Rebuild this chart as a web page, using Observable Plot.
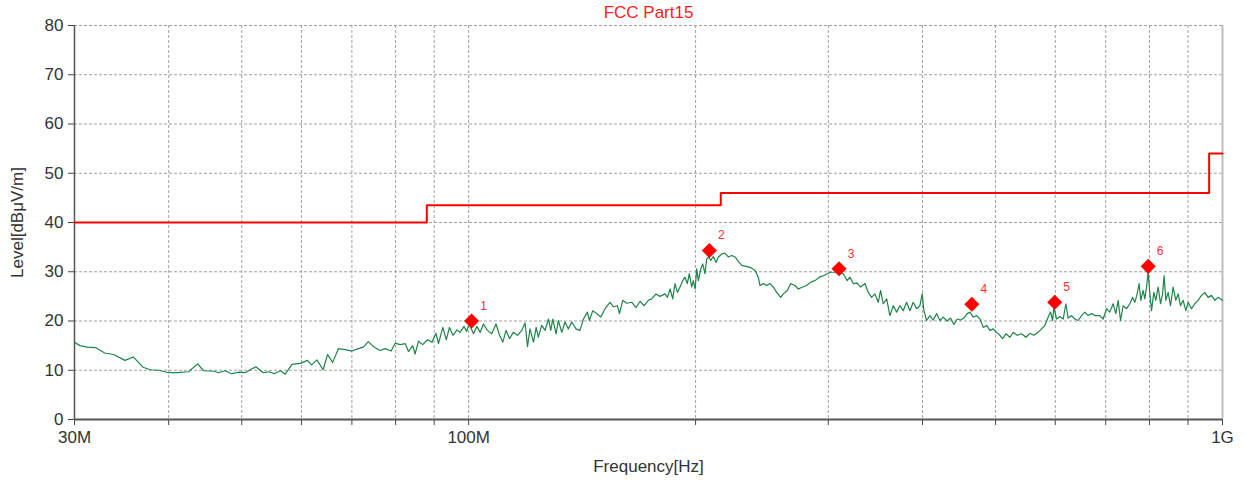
<!DOCTYPE html>
<html>
<head>
<meta charset="utf-8">
<script src="https://cdn.jsdelivr.net/npm/d3@7"></script>
<script src="https://cdn.jsdelivr.net/npm/@observablehq/plot@0.6"></script>
<style>
  html, body { margin: 0; padding: 0; background: #fff; }
  #chart svg { display: block; }
</style>
</head>
<body>
<div id="chart"></div>
<script>
// Measured trace: frequency (MHz) and level (dBµV/m)
const traceFreq = [
  30.0,30.5,31.2,32.0,32.9,33.8,35.0,35.9,37.0,37.8,38.8,40.0,41.0,42.5,43.7,44.5,45.9,46.6,47.5,48.5,
  49.5,50.5,51.6,52.2,53.4,54.4,55.2,56.3,57.1,58.3,59.8,61.1,
  61.9,62.9,64.1,65.0,66.0,67.2,68.6,70.0,71.4,72.5,73.6,74.9,76.3,77.5,78.9,79.9,81.1,82.4,83.2,84.3,
  84.9,85.8,86.9,88.2,89.4,90.5,91.2,92.4,93.4,94.3,95.3,96.5,97.4,98.6,99.4,100.1,101.5,102.5,103.6,
  104.6,105.9,107.3,108.7,109.9,111.0,112.1,113.3,114.6,116.1,117.6,118.8,119.7,
  120.6,121.9,122.9,123.7,125.0,126.3,127.6,128.5,129.3,130.6,131.5,132.9,134.2,135.6,137.0,138.8,140.5,
  142.0,143.7,144.6,146.1,147.9,149.7,151.7,154.0,155.6,157.5,158.5,160.1,162.1,164.6,166.7,168.8,170.9,
  173.1,174.9,177.2,179.4,182.2,183.5,185.0,186.5,187.8,189.2,190.7,192.3,193.6,195.0,196.2,197.6,198.6,
  199.7,200.7,201.7,203.2,204.4,205.8,206.9,208.4,209.5,211.1,212.9,214.4,216.6,218.8,221.0,223.3,225.6,
  227.9,230.2,233.3,
  236.2,239.8,242.2,243.5,246.0,248.5,251.0,253.6,256.2,259.4,261.4,264.7,267.4,270.9,273.7,277.4,280.8,
  284.3,288.0,291.8,295.4,299.0,302.1,306.1,310.1,314.0,317.8,320.5,323.7,327.7,331.1,335.5,338.9,342.4,
  345.9,349.4,351.9,354.8,358.5,362.1,365.8,369.6,373.3,377.1,381.0,384.9,388.8,392.9,396.8,399.6,401.7,
  405.0,409.1,413.3,417.6,421.8,426.1,431.3,435.8,440.3,444.7,449.4,453.9,458.5,462.3,467.0,471.9,
  476.7,481.5,486.5,491.4,496.4,501.6,506.7,510.9,516.0,522.4,527.7,534.2,541.4,548.5,555.3,562.1,569.5,
  575.4,581.3,587.2,591.5,595.1,597.5,602.4,608.5,614.7,619.8,624.1,630.6,637.0,643.5,650.2,656.8,663.4,
  670.4,677.1,
  687.5,694.5,701.8,708.8,716.0,722.0,727.1,732.4,738.3,746.0,753.5,759.8,765.1,770.5,775.2,779.2,
  784.7,788.8,792.9,796.8,801.0,805.1,810.8,815.8,821.5,827.6,832.6,836.7,841.1,847.0,853.2,860.0,
  867.1,873.2,879.6,886.7,894.0,900.3,909.7,918.9,928.2,937.9,947.4,957.0,967.0,976.8,986.7,1000
];
const traceLevel = [
  15.7,15.0,14.7,14.6,13.5,13.2,12.0,12.7,10.6,10.1,10.0,9.5,9.5,9.7,11.3,9.9,9.8,9.5,9.9,9.3,
  9.6,9.5,10.3,10.7,9.5,9.7,9.3,9.9,9.2,11.2,11.4,12.0,
  11.1,12.1,10.1,13.2,11.6,14.4,14.2,13.9,14.4,14.7,15.8,14.7,14.0,14.4,13.9,15.5,15.2,15.4,13.8,15.0,
  13.3,15.9,15.2,16.2,15.7,17.5,15.4,18.7,16.2,18.7,17.1,18.2,17.7,18.9,17.9,19.4,17.4,18.9,17.7,
  19.4,18.1,17.4,19.4,17.1,15.7,18.1,16.4,17.7,17.1,18.1,19.6,14.8,
  18.4,15.7,18.7,16.7,19.1,18.1,20.4,18.1,20.4,17.4,20.1,17.7,19.8,18.4,19.8,18.4,18.1,
  20.4,21.8,20.1,22.1,21.5,20.8,22.5,23.8,22.9,23.1,21.5,24.2,23.6,23.8,22.7,24.0,23.1,
  24.2,24.5,25.5,25.0,25.5,24.8,26.5,24.5,27.6,25.8,26.9,28.2,28.9,27.6,29.6,26.9,28.2,
  26.5,30.6,28.2,30.6,31.6,29.6,32.6,33.0,32.3,33.1,31.9,33.0,33.6,33.8,33.0,33.3,33.0,
  32.1,31.3,31.1,
  30.9,30.3,28.9,27.2,27.6,27.2,27.6,26.9,25.8,24.8,25.5,26.2,27.6,27.2,26.5,26.9,27.2,
  27.9,28.2,28.9,29.2,29.6,29.9,29.9,29.9,29.6,28.2,28.9,27.6,27.7,26.9,27.6,25.8,24.8,
  25.5,23.8,26.2,23.5,24.5,21.1,23.1,21.8,23.1,22.1,23.8,22.1,23.8,22.5,23.1,25.5,22.1,
  20.1,21.1,20.2,21.5,20.1,20.8,20.0,20.6,19.3,20.4,20.2,20.6,21.5,21.8,20.8,21.1,
  20.4,18.7,19.1,18.1,18.4,17.7,17.1,16.4,17.4,16.7,17.7,17.1,17.4,16.7,17.5,17.1,17.7,
  18.4,19.1,20.8,21.8,20.1,22.8,20.4,20.9,20.4,23.5,20.6,21.1,20.4,20.1,21.1,21.8,21.1,
  21.5,21.1,
  21.1,20.4,22.5,21.8,23.5,21.5,24.2,20.1,23.1,22.5,23.5,24.8,23.8,25.5,27.6,24.2,
  26.2,24.5,26.9,29.9,25.5,22.1,25.8,24.2,26.9,23.5,25.5,29.2,24.2,25.8,23.1,26.9,
  24.2,25.5,23.1,24.2,22.1,23.8,22.5,23.5,24.2,25.2,25.8,24.8,25.2,24.2,24.8,24.2
];

// FCC Part 15 limit (step after each frequency)
const limitFreq = [30, 88, 216, 960, 1000];
const limitLevel = [40, 43.5, 46, 54, 54];

// Peak markers
const markerFreq = [100.9, 208.6, 310, 465, 599, 797];
const markerLevel = [20.0, 34.3, 30.6, 23.4, 23.8, 31.1];
const markerLabel = ["1", "2", "3", "4", "5", "6"];

// Axes
const xTicks = [30, 40, 50, 60, 70, 80, 90, 100, 200, 300, 400, 500, 600, 700, 800, 900, 1000];
const xLabeledTicks = [30, 100, 1000];
const xLabeledText = ["30M", "100M", "1G"];
const yTicks = [0, 10, 20, 30, 40, 50, 60, 70, 80];

const chartTitle = "FCC Part15";
const xLabel = "Frequency[Hz]";
const yLabel = "Level[dBμV/m]";

const trace = traceFreq.map((f, i) => ({f, v: traceLevel[i]}));
const limit = limitFreq.map((f, i) => ({f, v: limitLevel[i]}));
const markers = markerFreq.map((f, i) => ({f, v: markerLevel[i], label: markerLabel[i]}));
const tickText = new Map(xLabeledTicks.map((t, i) => [t, xLabeledText[i]]));

const chart = Plot.plot({
  width: 1245,
  height: 481,
  marginTop: 25,
  marginBottom: 62,
  marginLeft: 74,
  marginRight: 23,
  style: {fontFamily: "'Liberation Sans', Arial, sans-serif", fontSize: "17px", color: "#333", background: "#fff"},
  x: {type: "log", domain: [30, 1000]},
  y: {domain: [0, 80]},
  marks: [
    Plot.gridX(xTicks.filter(t => t !== 30 && t !== 1000), {stroke: "#a0a0a0", strokeOpacity: 1, strokeDasharray: "3,2"}),
    Plot.gridY(yTicks.filter(t => t !== 0), {stroke: "#a0a0a0", strokeOpacity: 1, strokeDasharray: "3,2"}),
    Plot.ruleX([1000], {stroke: "#bdbdbd", strokeWidth: 2}),
    Plot.axisX(xTicks, {tickSize: 6, tickPadding: 5, tickFormat: d => tickText.get(d) ?? "", label: null, stroke: "#444"}),
    Plot.axisY(yTicks, {tickSize: 6, tickPadding: 5, label: null, stroke: "#444"}),
    Plot.ruleY([0], {stroke: "#555", strokeWidth: 2}),
    Plot.ruleX([30], {stroke: "#555", strokeWidth: 1.5}),
    Plot.line(trace, {x: "f", y: "v", stroke: "#1e8449", strokeWidth: 1.2}),
    Plot.line(limit, {x: "f", y: "v", curve: "step-after", stroke: "#ff0000", strokeWidth: 2}),
    Plot.dot(markers, {x: "f", y: "v", symbol: "diamond2", r: 6.8, fill: "#ff0000", stroke: "none"}),
    Plot.text(markers, {x: "f", y: "v", text: "label", dx: 12, dy: -15, fill: "#ff3030", fontSize: 12}),
    Plot.text([chartTitle], {frameAnchor: "top", textAnchor: "middle", lineAnchor: "middle", dy: -13, fill: "#ff2020", fontSize: 17}),
    Plot.text([xLabel], {frameAnchor: "bottom", textAnchor: "middle", lineAnchor: "middle", dy: 47, fill: "#333", fontSize: 17}),
    Plot.text([yLabel], {frameAnchor: "left", textAnchor: "middle", lineAnchor: "middle", dx: -57, rotate: -90, fill: "#333", fontSize: 17})
  ]
});
document.getElementById("chart").appendChild(chart);
</script>
</body>
</html>
